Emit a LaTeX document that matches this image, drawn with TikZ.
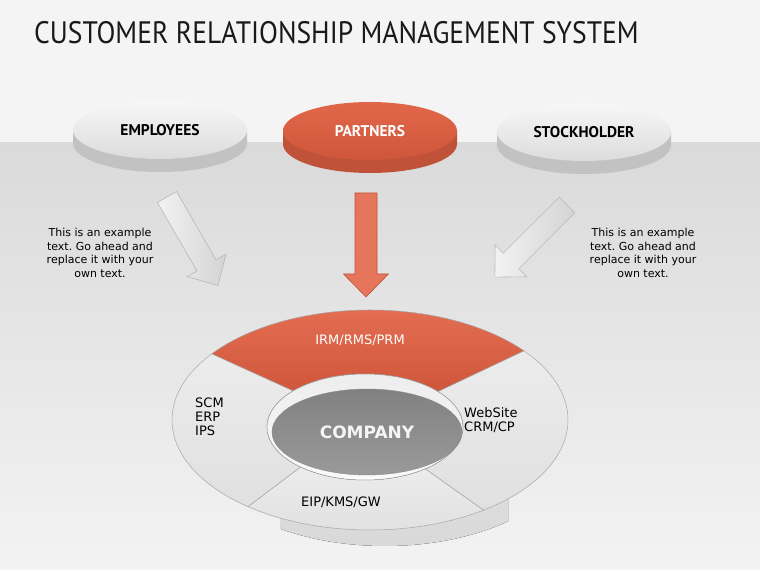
\documentclass[tikz,border=0pt]{standalone}
\usepackage{fontspec}
\setmainfont{DejaVu Sans}
\newfontfamily\headfont[FakeStretch=0.89]{PT Sans}
\newfontfamily\diskfont{PT Sans}
\usepackage{tikz}
\usetikzlibrary{calc,positioning,shapes.geometric}
\usepackage{xcolor}
\definecolor{pagetop}{HTML}{F4F4F4}
\definecolor{bandtop}{HTML}{DADADA}
\definecolor{bandbottom}{HTML}{F3F3F3}
\definecolor{crmorange}{HTML}{E2674A}
\definecolor{crmorangedark}{HTML}{D0563B}
\definecolor{crmorangeside}{HTML}{BF5238}
\definecolor{disklight}{HTML}{F7F7F7}
\definecolor{diskdark}{HTML}{DCDCDC}
\definecolor{diskside}{HTML}{C2C2C2}
\definecolor{ringline}{HTML}{A6A6A6}
\definecolor{seglight}{HTML}{ECECEC}
\definecolor{segdark}{HTML}{E0E0E0}
\definecolor{companygray}{HTML}{8C8C8C}
\frenchspacing

\begin{document}
\begin{tikzpicture}[x=1pt,y=1pt,
  disk/.style={ellipse,minimum width=174pt,minimum height=58pt,inner sep=0pt,
    font=\diskfont\bfseries\fontsize{15.5}{17}\selectfont},
  graydisk/.style={disk,top color=disklight,bottom color=diskdark,text=black},
  orangedisk/.style={disk,top color=crmorange,bottom color=crmorangedark,text=white},
  grayarrow/.style={draw=black!28,line width=0.6pt,left color=white!95!black,right color=black!17},
  orangearrow/.style={draw=crmorangeside,line width=0.6pt,fill=crmorange!90!white},
  note/.style={align=center,font=\fontsize{11}{13.4}\selectfont},
  seglabel/.style={font=\fontsize{13}{14}\selectfont},
  segment/.style={draw=ringline,line width=0.5pt,top color=seglight,bottom color=segdark}]
\useasboundingbox (0,0) rectangle (760,570);
\fill[pagetop] (0,0) rectangle (760,570);
\shade[top color=bandtop,bottom color=bandbottom] (0,0) rectangle (760,427);

\node[anchor=base west,inner sep=0pt,font=\headfont\fontsize{31}{31}\selectfont,text=black!90] (title) at (34,526) {CUSTOMER RELATIONSHIP MANAGEMENT SYSTEM};

\coordinate (empc) at (160,440);
\coordinate (parc) at (370,439);
\coordinate (stkc) at (584,438);
\fill[diskside] ([xshift=-87pt]empc) -- ++(0,-13) arc[start angle=180,end angle=360,x radius=87,y radius=29] -- ++(0,13) -- cycle;
\fill[crmorangeside] ([xshift=-87pt]parc) -- ++(0,-13) arc[start angle=180,end angle=360,x radius=87,y radius=29] -- ++(0,13) -- cycle;
\fill[diskside] ([xshift=-87pt]stkc) -- ++(0,-13) arc[start angle=180,end angle=360,x radius=87,y radius=29] -- ++(0,13) -- cycle;
\node[graydisk] (emp) at (empc) {EMPLOYEES};
\node[orangedisk] (par) at (parc) {PARTNERS};
\node[graydisk] (stk) at (stkc) {STOCKHOLDER};

\draw[grayarrow,shift={(167,373)},rotate=-60] (0,-11) -- (79,-11) -- (79,-22.5) -- (102,0) -- (79,22.5) -- (79,11) -- (0,11) -- cycle;
\draw[orangearrow,shift={(366,377)},rotate=-90] (0,-11) -- (81,-11) -- (81,-22.5) -- (104,0) -- (81,22.5) -- (81,11) -- (0,11) -- cycle;
\draw[grayarrow,shift={(567,365)},rotate=-135] (0,-11) -- (79,-11) -- (79,-22.5) -- (102,0) -- (79,22.5) -- (79,11) -- (0,11) -- cycle;

\node[note] (leftnote) at (100,317) {This is an example\\text. Go ahead and\\replace it with your\\own text.};
\node[note] (rightnote) at (643,317) {This is an example\\text. Go ahead and\\replace it with your\\own text.};

\coordinate (ring) at (370,150);
\coordinate (hole) at (365,143);
\begin{scope}
\clip (280,0) rectangle (508,150);
\fill[top color=black!9,bottom color=black!15] (385,128) ellipse[x radius=190,y radius=104];
\end{scope}
\draw[segment] ($(ring)+(143:198 and 110)$) arc[start angle=143,end angle=232,x radius=198,y radius=110]
  -- ($(hole)+(229:98 and 53)$) arc[start angle=229,end angle=137,x radius=98,y radius=53] -- cycle;
\draw[segment] ($(ring)+(232:198 and 110)$) arc[start angle=232,end angle=305,x radius=198,y radius=110]
  -- ($(hole)+(308:98 and 53)$) arc[start angle=308,end angle=229,x radius=98,y radius=53] -- cycle;
\draw[segment] ($(ring)+(305:198 and 110)$) arc[start angle=305,end angle=399,x radius=198,y radius=110]
  -- ($(hole)+(402:98 and 53)$) arc[start angle=402,end angle=308,x radius=98,y radius=53] -- cycle;
\draw[segment,top color=crmorange!95!white,bottom color=crmorangedark] ($(ring)+(39:198 and 110)$) arc[start angle=39,end angle=143,x radius=198,y radius=110]
  -- ($(hole)+(137:98 and 53)$) arc[start angle=137,end angle=42,x radius=98,y radius=53] -- cycle;
\fill[top color=black!7,bottom color=black!2] (hole) ellipse[x radius=98,y radius=53];
\draw[ringline,line width=0.5pt] (hole) ellipse[x radius=98,y radius=53];

\node[ellipse,minimum width=190pt,minimum height=86pt,inner sep=0pt,top color=companygray!92!black,bottom color=companygray!88!white,
  draw=black!45,line width=0.4pt,text=white!96!black,font=\bfseries\fontsize{17}{19}\selectfont] (company) at (367,138) {COMPANY};

\node[seglabel,text=white] (irm) at (360,230) {IRM/RMS/PRM};
\node[seglabel,align=left,anchor=west,inner sep=0pt] (scm) at (195,153) {SCM\\ERP\\IPS};
\node[seglabel,align=left,anchor=west,inner sep=0pt] (web) at (464,150) {WebSite\\CRM/CP};
\node[seglabel] (eip) at (341,68) {EIP/KMS/GW};
\end{tikzpicture}
\end{document}
